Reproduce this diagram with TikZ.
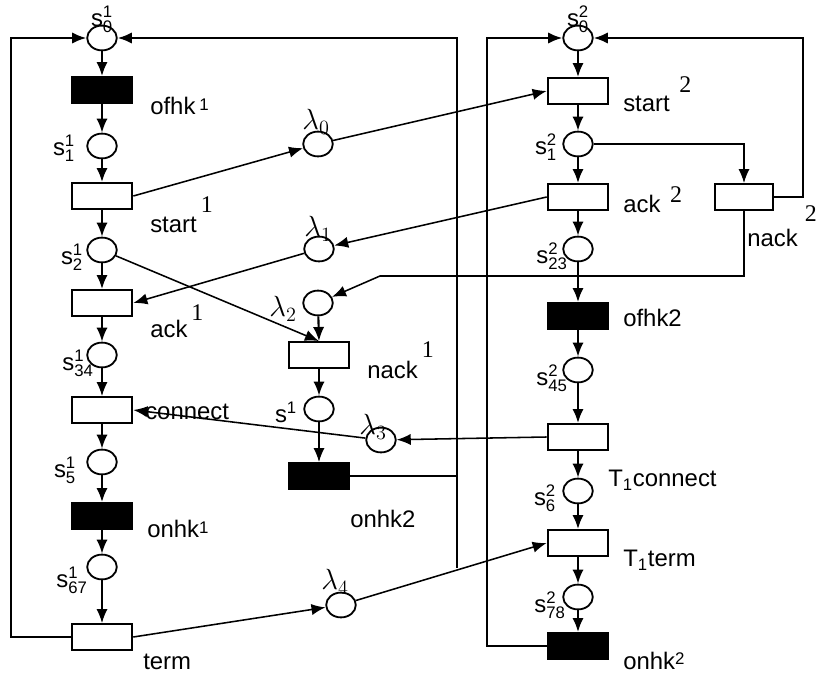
\documentclass[tikz,border=0pt]{standalone}
\usepackage{fontspec}
\setmainfont{Liberation Sans}
\setmathsf{Liberation Sans}
\newfontfamily\serif{Liberation Serif}
\usetikzlibrary{shapes.geometric,arrows.meta}

\tikzset{
  place/.style={ellipse, draw, line width=1.3pt, minimum width=.74cm, minimum height=.62cm, inner sep=0pt},
  trans/.style={rectangle, draw, line width=1.3pt, minimum width=1.52cm, minimum height=.65cm, inner sep=0pt},
  bar/.style={trans, fill=black},
  flow/.style={-{Latex[length=10pt,width=8pt]}, line width=1.5pt},
  thinflow/.style={flow, line width=1.1pt},
  txt/.style={font=\fontsize{17}{20}\selectfont, inner sep=0pt},
  lam/.style={font=\fontsize{20}{22}\selectfont, inner sep=0pt},
}
\newcommand{\pl}[2]{$\mathsf{s}^{\mathsf{#1}}_{\mathsf{#2}}$}
\newcommand{\smallnum}[1]{\raisebox{.35ex}{\fontsize{12}{14}\selectfont #1}}
\newcommand{\hi}[2]{\raisebox{#1}{\serif #2}}

\begin{document}
\begin{tikzpicture}[x=.025cm, y=-.025cm]
\useasboundingbox (0,0) rectangle (818,675);

% first party
\node[place] (s01) at (102,38) {};
\node[bar] (ofhk1) at (102,90) {};
\node[place] (s11) at (102,146) {};
\node[trans] (start1) at (102,196) {};
\node[place] (s21) at (102,250) {};
\node[trans] (ack1) at (102,303) {};
\node[place] (s341) at (102,355) {};
\node[trans] (conn1) at (102,410) {};
\node[place] (s51) at (102,462) {};
\node[bar] (onhk1) at (102,516) {};
\node[place] (s671) at (102,567) {};
\node[trans] (term1) at (102,637) {};

% channel places and nack branch
\node[place] (lam0) at (318,144) {};
\node[place] (lam1) at (319,249) {};
\node[place] (lam2) at (318,303) {};
\node[trans] (nack1) at (319,355) {};
\node[place] (s1x) at (319,409) {};
\node[bar] (onhk3) at (319,476) {};
\node[place] (lam3) at (381,440) {};
\node[place] (lam4) at (341,605) {};

% second party
\node[place] (s02) at (578,38) {};
\node[trans] (start2) at (578,91) {};
\node[place] (s12) at (578,144) {};
\node[trans] (ack2) at (578,197) {};
\node[trans, minimum width=1.45cm] (nack2) at (744,197) {};
\node[place] (s232) at (578,249) {};
\node[bar] (ofhk2) at (578,316) {};
\node[place] (s452) at (578,370) {};
\node[trans] (conn2) at (578,437) {};
\node[place] (s62) at (578,491) {};
\node[trans] (term2) at (578,543) {};
\node[place] (s782) at (578,597) {};
\node[bar] (onhk2) at (578,646) {};

\coordinate (lrail) at (11,38);
\coordinate (mrail) at (457,568);
\coordinate (rrail) at (487,38);
\coordinate (nrail) at (803,38);
\coordinate (bend) at (380,276);

% arcs of the first party
\draw[flow] (s01) -- (ofhk1);
\draw[flow] (ofhk1) -- (s11);
\draw[flow] (s11) -- (start1);
\draw[flow] (start1) -- (s21);
\draw[flow] (s21) -- (ack1);
\draw[flow] (ack1) -- (s341);
\draw[thinflow] (s341) -- (conn1);
\draw[flow] (conn1) -- (s51);
\draw[flow] (s51) -- (onhk1);
\draw[flow] (onhk1) -- (s671);
\draw[thinflow] (s671) -- (term1);
\draw[flow] (term1.west) -| (lrail) -- (s01.west);

% arcs of the second party
\draw[flow] (s02) -- (start2);
\draw[flow] (start2) -- (s12);
\draw[flow] (s12) -- (ack2);
\draw[flow] (ack2) -- (s232);
\draw[flow] (s232) -- (ofhk2);
\draw[flow] (ofhk2) -- (s452);
\draw[flow] (s452) -- (conn2);
\draw[flow] (conn2) -- (s62);
\draw[flow] (s62) -- (term2);
\draw[flow] (term2) -- (s782);
\draw[flow] (s782) -- (onhk2);
\draw[thinflow] (s12.east) -| (nack2.north);
\draw[flow] (nack2.east) -| (nrail) -- (s02.east);
\draw[flow] (onhk2.west) -| (rrail) -- (s02.west);

% messages between the parties
\draw[thinflow] (start1.east) -- (lam0);
\draw[thinflow] (lam0) -- (start2.west);
\draw[thinflow] (ack2.west) -- (lam1);
\draw[thinflow] (lam1) -- (ack1.east);
\draw[thinflow] (s21) -- (nack1.north);
\draw[thinflow] (nack2.south) |- (bend) -- (lam2);
\draw[flow] (lam2) -- (nack1.north);
\draw[flow] (nack1) -- (s1x);
\draw[thinflow] (s1x) -- (onhk3);
\draw[line width=1.5pt] (onhk3.east) -- (onhk3.east -| mrail);
\draw[flow] (mrail) |- (s01.east);
\draw[thinflow] (conn2.west) -- (lam3);
\draw[thinflow] (lam3) -- (conn1.east);
\draw[thinflow] (term1.east) -- (lam4);
\draw[thinflow] (lam4) -- (term2.west);

% place labels
\node[txt] (l-s01) at (102,19) {\pl{1}{0}};
\node[txt] (l-s11) at (64,148) {\pl{1}{1}};
\node[txt] (l-s21) at (72,257) {\pl{1}{2}};
\node[txt] (l-s341) at (78,363) {\pl{1}{34}};
\node[txt] (l-s51) at (65,470) {\pl{1}{5}};
\node[txt] (l-s671) at (72,580) {\pl{1}{67}};
\node[txt] (l-s1x) at (286,412) {$\mathsf{s}^{\mathsf{1}}$};
\node[txt] (l-s02) at (578,19) {\pl{2}{0}};
\node[txt] (l-s12) at (546,147) {\pl{2}{1}};
\node[txt] (l-s232) at (552,256) {\pl{2}{23}};
\node[txt] (l-s452) at (552,378) {\pl{2}{45}};
\node[txt] (l-s62) at (545,498) {\pl{2}{6}};
\node[txt] (l-s782) at (550,605) {\pl{2}{78}};
\node[lam] (l-lam0) at (316,122) {$\lambda_0$};
\node[lam] (l-lam1) at (318,229) {$\lambda_1$};
\node[lam] (l-lam2) at (283,309) {$\lambda_2$};
\node[lam] (l-lam3) at (373,427) {$\lambda_3$};
\node[lam] (l-lam4) at (335,582) {$\lambda_4$};

% transition labels
\node[txt, anchor=base west] (l-ofhk1) at (150,115) {ofhk\,\smallnum{1}};
\node[txt, anchor=base west] (l-start1) at (150,233) {start\,\hi{.85em}{1}};
\node[txt, anchor=base west] (l-ack1) at (150,338) {ack\,\hi{.75em}{1}};
\node[txt, anchor=base west] (l-conn1) at (145,420) {connect};
\node[txt, anchor=base west] (l-onhk1) at (147,538) {onhk\smallnum{1}};
\node[txt, anchor=base west] (l-term1) at (143,669) {term};
\node[txt, anchor=base west] (l-nack1) at (367,379) {nack\,\hi{.9em}{1}};
\node[txt, anchor=base west] (l-onhk3) at (350,528) {onhk2};
\node[txt, anchor=base west] (l-start2) at (623,112) {start\hspace{.4em}\hi{.8em}{2}};
\node[txt, anchor=base west] (l-ack2) at (623,213) {ack\hspace{.4em}\hi{.42em}{2}};
\node[txt, anchor=base west] (l-nack2) at (747,247) {nack\hspace{.3em}\hi{1.05em}{2}};
\node[txt, anchor=base west] (l-ofhk2) at (623,327) {ofhk2};
\node[txt, anchor=base west] (l-conn2) at (608,487) {T$_{\mathsf{1}}$connect};
\node[txt, anchor=base west] (l-term2) at (623,567) {T$_{\mathsf{1}}$term};
\node[txt, anchor=base west] (l-onhk2) at (623,669) {onhk\smallnum{2}};
\end{tikzpicture}
\end{document}
